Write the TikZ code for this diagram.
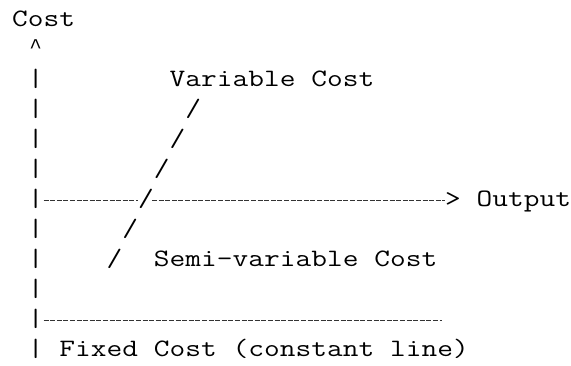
\documentclass[tikz,border=0pt]{standalone}
\usepackage{fontspec}
\newfontfamily\caretfont{Liberation Mono}
% each character is set, slightly widened, in its own cell of fixed width
\newcommand\cells[1]{\cellloop#1\relax}
\def\cellloop#1{\ifx#1\relax\else\makebox[15.75pt][c]{\scalebox{1.22}[1]{#1}}\expandafter\cellloop\fi}
\newcommand\caretchar{{\caretfont\fontsize{21}{30}\selectfont\string^}}
\begin{document}
\begin{tikzpicture}[x=1pt,y=-1pt,
  txt/.style={anchor=base west,inner sep=0pt,outer sep=0pt,
    font=\ttfamily\fontsize{25}{30}\selectfont},
  rule/.style={line width=0.8pt,dash pattern=on 5pt off 1.6pt,black!80}]
\useasboundingbox (0,0) rectangle (571,366);
% character grid: column c starts at 12+15.75c, row r has baseline 27+30(r-1)
% axis label and arrow head of the cost axis
\node[txt] (cost) at (12,27) {\cells{Cost}};
\node[txt] (head) at (27.75,54) {\makebox[15.75pt][c]{\caretchar}};
% vertical axis, one bar per text row
\foreach \r in {3,...,12}
  \node[txt] (bar\r) at (27.75,{27+30*(\r-1)}) {\cells{|}};
% line of the variable cost
\node[txt] (varlbl) at (169.5,87) {\cells{Variable~Cost}};
\node[txt] (s4) at (185.25,117) {\cells{/}};
\node[txt] (s5) at (169.5,147) {\cells{/}};
\node[txt] (s6) at (153.75,177) {\cells{/}};
\node[txt] (s7) at (138,207) {\cells{/}};
\node[txt] (s8) at (122.25,237) {\cells{/}};
\node[txt] (s9) at (106.5,267) {\cells{/}};
\node[txt] (semilbl) at (153.75,267) {\cells{Semi-variable~Cost}};
% output axis
\coordinate (o1) at (43.5,200.5);
\coordinate (o2) at (138,200.5);
\coordinate (o3) at (152,200.5);
\coordinate (o4) at (445,200.5);
\draw[rule] (o1) -- (o2);
\draw[rule] (o3) -- (o4);
\node[txt] (tip) at (445,207) {\cells{>}};
\node[txt] (outlbl) at (476.5,207) {\cells{Output}};
% fixed cost line
\coordinate (f1) at (43.5,320.5);
\coordinate (f2) at (442,320.5);
\draw[rule] (f1) -- (f2);
\node[txt] (fixlbl) at (59.25,357) {\cells{Fixed~Cost~(constant~line)}};
\end{tikzpicture}
\end{document}
